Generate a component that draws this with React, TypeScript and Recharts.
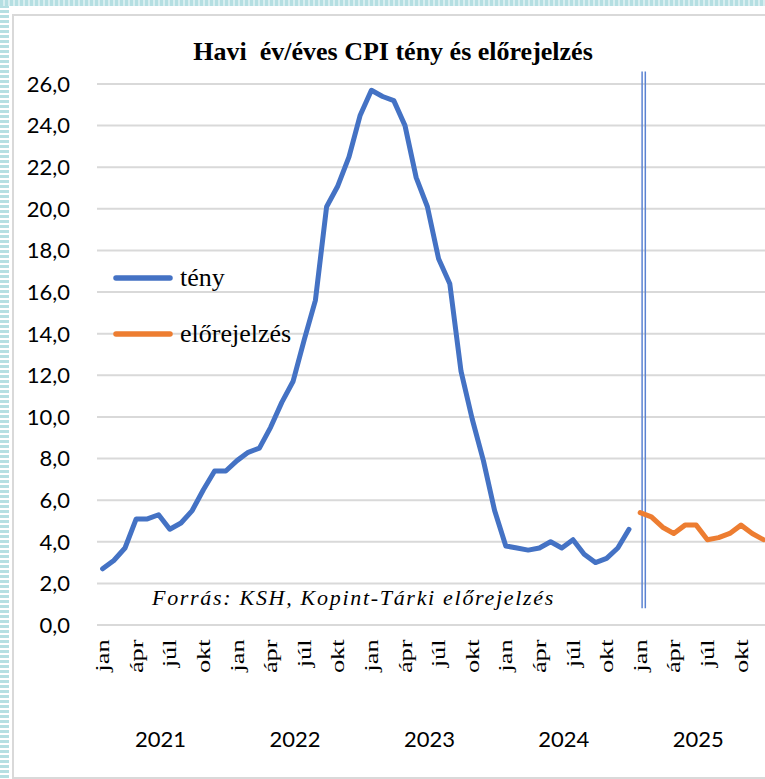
import React from "react";
import {
  CartesianGrid,
  Legend,
  Line,
  LineChart,
  ReferenceLine,
  XAxis,
  YAxis,
} from "recharts";

const monthNames = ["jan", "feb", "márc", "ápr", "máj", "jún", "júl", "aug", "szept", "okt", "nov", "dec"];
const years = [2021, 2022, 2023, 2024, 2025];

// tény (KSH), 2021 jan - 2024 dec
const actual = [
  2.7, 3.1, 3.7, 5.1, 5.1, 5.3, 4.6, 4.9, 5.5, 6.5, 7.4, 7.4,
  7.9, 8.3, 8.5, 9.5, 10.7, 11.7, 13.7, 15.6, 20.1, 21.1, 22.5, 24.5,
  25.7, 25.4, 25.2, 24.0, 21.5, 20.1, 17.6, 16.4, 12.2, 9.9, 7.9, 5.5,
  3.8, 3.7, 3.6, 3.7, 4.0, 3.7, 4.1, 3.4, 3.0, 3.2, 3.7, 4.6,
];
// előrejelzés, 2025 jan - dec
const forecast = [5.4, 5.2, 4.7, 4.4, 4.8, 4.8, 4.1, 4.2, 4.4, 4.8, 4.4, 4.1];

const yTicks = [0, 2, 4, 6, 8, 10, 12, 14, 16, 18, 20, 22, 24, 26];

const seriesNames = { teny: "tény", elore: "előrejelzés" };
const colors = { teny: "#4472C4", elore: "#ED7D31" };

const data = years.flatMap((year, yi) =>
  monthNames.map((month, mi) => {
    const i = yi * 12 + mi;
    return {
      key: `${year}-${mi + 1}`,
      year,
      month,
      mi,
      teny: i < actual.length ? actual[i] : null,
      elore: i >= actual.length ? forecast[i - actual.length] : null,
    };
  })
);

const byKey = Object.fromEntries(data.map((d) => [d.key, d]));

const MonthTick = ({ x, y, payload }: any) => {
  const d = byKey[payload.value];
  if (!d || d.mi % 3 !== 0) return <g />;
  return (
    <g transform={`translate(${x},${y})`}>
      <text
        transform="rotate(-90) scale(1.2,0.85)"
        x={-12}
        y={0}
        dy="0.35em"
        textAnchor="end"
        fill="#000"
        fontSize={22}
        fontFamily="'Liberation Serif', 'Times New Roman', serif">
        {d.month}
      </text>
    </g>
  );
};

const YearTick = ({ x, y, payload }: any) => {
  const d = byKey[payload.value];
  if (!d || d.mi !== 5) return <g />;
  return (
    <text
      x={x + 2}
      y={y - 16}
      dy="0.35em"
      textAnchor="middle"
      fill="#000"
      fontSize={22}
      fontFamily="Lato, sans-serif">
      {d.year}
    </text>
  );
};

const DoubleLine = (props: any) => {
  const { x1, y1, x2, y2 } = props;
  return (
    <g>
      <line x1={x1 - 1.6} y1={y1} x2={x2 - 1.6} y2={y2} stroke="#5B83D2" strokeWidth={1.5} />
      <line x1={x1 + 1.6} y1={y1} x2={x2 + 1.6} y2={y2} stroke="#5B83D2" strokeWidth={1.5} />
    </g>
  );
};

const LegendBox = () => (
  <div style={{ fontFamily: "'Liberation Serif', serif", fontSize: 26, color: "#000", width: 240 }}>
    {(["teny", "elore"] as const).map((k) => (
      <div key={k} style={{ display: "flex", alignItems: "center", height: 32, marginBottom: 24, whiteSpace: "nowrap" }}>
        <svg width={62} height={10} style={{ marginRight: 6, flexShrink: 0 }}>
          <line x1={4} y1={5} x2={58} y2={5} stroke={colors[k]} strokeWidth={5.5} strokeLinecap="round" />
        </svg>
        <span>{seriesNames[k]}</span>
      </div>
    ))}
  </div>
);

export default function App() {
  return (
    <div
      style={{
        position: "absolute",
        left: 0,
        top: 0,
        width: 765,
        height: 779,
        overflow: "hidden",
        background: "#fff",
      }}>
      <div
        style={{
          position: "absolute",
          left: 0,
          top: 0,
          width: 9,
          height: 779,
          background: "repeating-linear-gradient(to bottom, #b5dfe2 0 3px, #ffffff 3px 5px)",
        }}
      />
      <div
        style={{
          position: "absolute",
          left: 0,
          top: 0,
          width: 765,
          height: 6,
          background: "repeating-linear-gradient(to right, #b5dfe2 0 3px, #d8eef0 3px 5px)",
        }}
      />
      <div
        style={{
          position: "absolute",
          left: 12,
          top: 14,
          width: 770,
          height: 761,
          borderLeft: "2px solid #d9d9d9",
          borderTop: "2px solid #d9d9d9",
          borderBottom: "2px solid #d9d9d9",
        }}
      />
      <div
        style={{
          position: "absolute",
          left: 0,
          top: 37,
          width: 786,
          textAlign: "center",
          fontFamily: "'Liberation Serif', 'Times New Roman', serif",
          fontWeight: "bold",
          fontSize: 26,
          lineHeight: "30px",
          color: "#000",
          whiteSpace: "pre",
        }}>
        Havi  év/éves CPI tény és előrejelzés
      </div>
      <div style={{ position: "absolute", left: 0, top: 0 }}>
        <LineChart
          width={770}
          height={779}
          data={data}
          margin={{ top: 84, right: 1, left: 17, bottom: 0 }}>
          <CartesianGrid vertical={false} stroke="#d9d9d9" strokeWidth={2} />
          <XAxis
            dataKey="key"
            padding={{ left: 5.6, right: 5.6 }}
            axisLine={false}
            tickLine={false}
            tickSize={0}
            tickMargin={0}
            interval={0}
            height={100}
            tick={<MonthTick />}
          />
          <XAxis
            xAxisId="year"
            dataKey="key"
            padding={{ left: 5.6, right: 5.6 }}
            axisLine={false}
            tickLine={false}
            tickSize={0}
            tickMargin={0}
            interval={0}
            height={54}
            tick={<YearTick />}
          />
          <XAxis xAxisId="num" type="number" domain={[0, data.length]} allowDataOverflow hide />
          <YAxis
            width={80}
            domain={[0, 26]}
            ticks={yTicks}
            interval={0}
            axisLine={false}
            tickLine={false}
            tickMargin={21}
            tickFormatter={(v: number) => v.toFixed(1).replace(".", ",")}
            tick={{ fill: "#000", fontSize: 22, fontFamily: "Lato, sans-serif" }}
          />
          <ReferenceLine
            xAxisId="num"
            ifOverflow="visible"
            segment={[
              { x: actual.length, y: 0.8 },
              { x: actual.length, y: 26.6 },
            ]}
            shape={<DoubleLine />}
          />
          <Legend
            layout="vertical"
            align="left"
            verticalAlign="top"
            wrapperStyle={{ left: 112, top: 262, width: 0, height: 0, overflow: "visible" }}
            content={() => <LegendBox />}
          />
          <Line
            type="linear"
            dataKey="teny"
            name={seriesNames.teny}
            stroke={colors.teny}
            strokeWidth={5}
            strokeLinejoin="round"
            strokeLinecap="round"
            dot={false}
            isAnimationActive={false}
          />
          <Line
            type="linear"
            dataKey="elore"
            name={seriesNames.elore}
            stroke={colors.elore}
            strokeWidth={5}
            strokeLinejoin="round"
            strokeLinecap="round"
            dot={false}
            isAnimationActive={false}
          />
        </LineChart>
      </div>
      <div
        style={{
          position: "absolute",
          left: 152,
          top: 585,
          fontFamily: "'Liberation Serif', 'Times New Roman', serif",
          fontStyle: "italic",
          fontSize: 22,
          lineHeight: "26px",
          letterSpacing: 1.7,
          color: "#000",
          whiteSpace: "nowrap",
        }}>
        Forrás: KSH, Kopint-Tárki előrejelzés
      </div>
    </div>
  );
}
